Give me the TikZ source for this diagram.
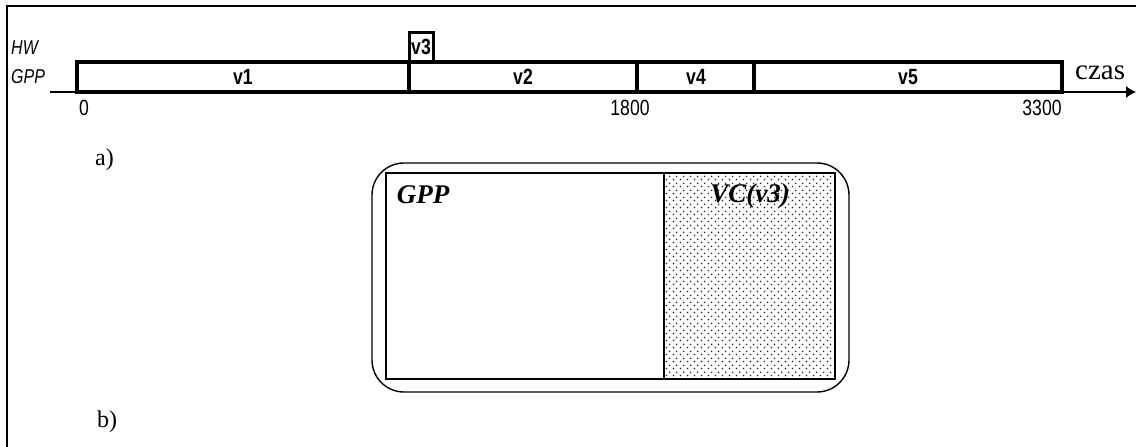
\documentclass[tikz,border=0pt]{standalone}
\usepackage{fontspec}
\setmainfont{Liberation Serif}
\newfontfamily\narrowsf[FakeStretch=0.8]{Liberation Sans}
\usepackage{tikz}
\usetikzlibrary{patterns,patterns.meta,arrows.meta,positioning,calc}

\tikzdeclarepattern{name=vcdots, type=uncolored,
  bounding box={(0pt,0pt) and (7pt,7pt)}, tile size={(7pt,7pt)},
  code={\fill (1.75pt,1.75pt) circle (1pt); \fill (5.25pt,5.25pt) circle (1pt);}}

\begin{document}
\begin{tikzpicture}[x=1pt,y=-1pt,>={Latex[length=10pt,width=12pt]},
  seglabel/.style={font=\narrowsf\bfseries\fontsize{22}{23}\selectfont,inner sep=0pt},
  ticklabel/.style={font=\narrowsf\fontsize{22}{23}\selectfont,inner sep=0pt},
  rowlabel/.style={font=\narrowsf\itshape\fontsize{20}{21}\selectfont,inner sep=0pt,anchor=west},
  partlabel/.style={font=\fontsize{24}{26}\selectfont,inner sep=0pt,anchor=base west},
  boxlabel/.style={font=\bfseries\itshape\fontsize{27}{29}\selectfont,inner sep=0pt}]
  \useasboundingbox (0,0) rectangle (1136,447);
  % ramka
  \draw[line width=1.6pt] (7,447)--(7,6)--(1136,6);
  % os czasu
  \coordinate (axstart) at (50,92);
  \coordinate (axend) at (1136,92);
  \draw[->,line width=1.2pt] (axstart)--(axend);
  \node[font=\fontsize{29}{30}\selectfont,inner sep=0pt,anchor=base west] (czas) at (1075,79) {czas};
  % pasek GPP
  \draw[line width=4pt] (77,62) rectangle (1062,92);
  \foreach \xx in {409,637,754} \draw[line width=4pt] (\xx,62)--(\xx,92);
  % zadanie HW
  \draw[line width=3pt] (409,62)--(409,32)--(433,32)--(433,62);
  \node[rowlabel] (hw) at (11,48) {HW};
  \node[rowlabel] (gpp) at (11,77) {GPP};
  \node[seglabel] (v1) at (243,77) {v1};
  \node[seglabel] (v2) at (523,77) {v2};
  \node[seglabel] (v3) at (421,47) {v3};
  \node[seglabel] (v4) at (696,77) {v4};
  \node[seglabel] (v5) at (908,77) {v5};
  \node[ticklabel] (t0) at (84,108) {0};
  \node[ticklabel] (t1800) at (630,108) {1800};
  \node[ticklabel] (t3300) at (1042,108) {3300};
  \node[partlabel] (parta) at (95,165) {a)};
  \node[partlabel] (partb) at (97,427) {b)};
  % uklad b)
  \draw[line width=1.4pt,rounded corners=32pt] (372,163) rectangle (849,392);
  \fill[pattern=vcdots,pattern color=black!85] (664,173) rectangle (835,379);
  \draw[line width=1.2pt] (386,173) rectangle (835,379);
  \draw[line width=1.2pt] (664,173)--(664,379);
  \node[boxlabel] (gppbox) at (423,195) {GPP};
  \node[boxlabel] (vcbox) at (750,196) {VC(v3)};
\end{tikzpicture}
\end{document}
